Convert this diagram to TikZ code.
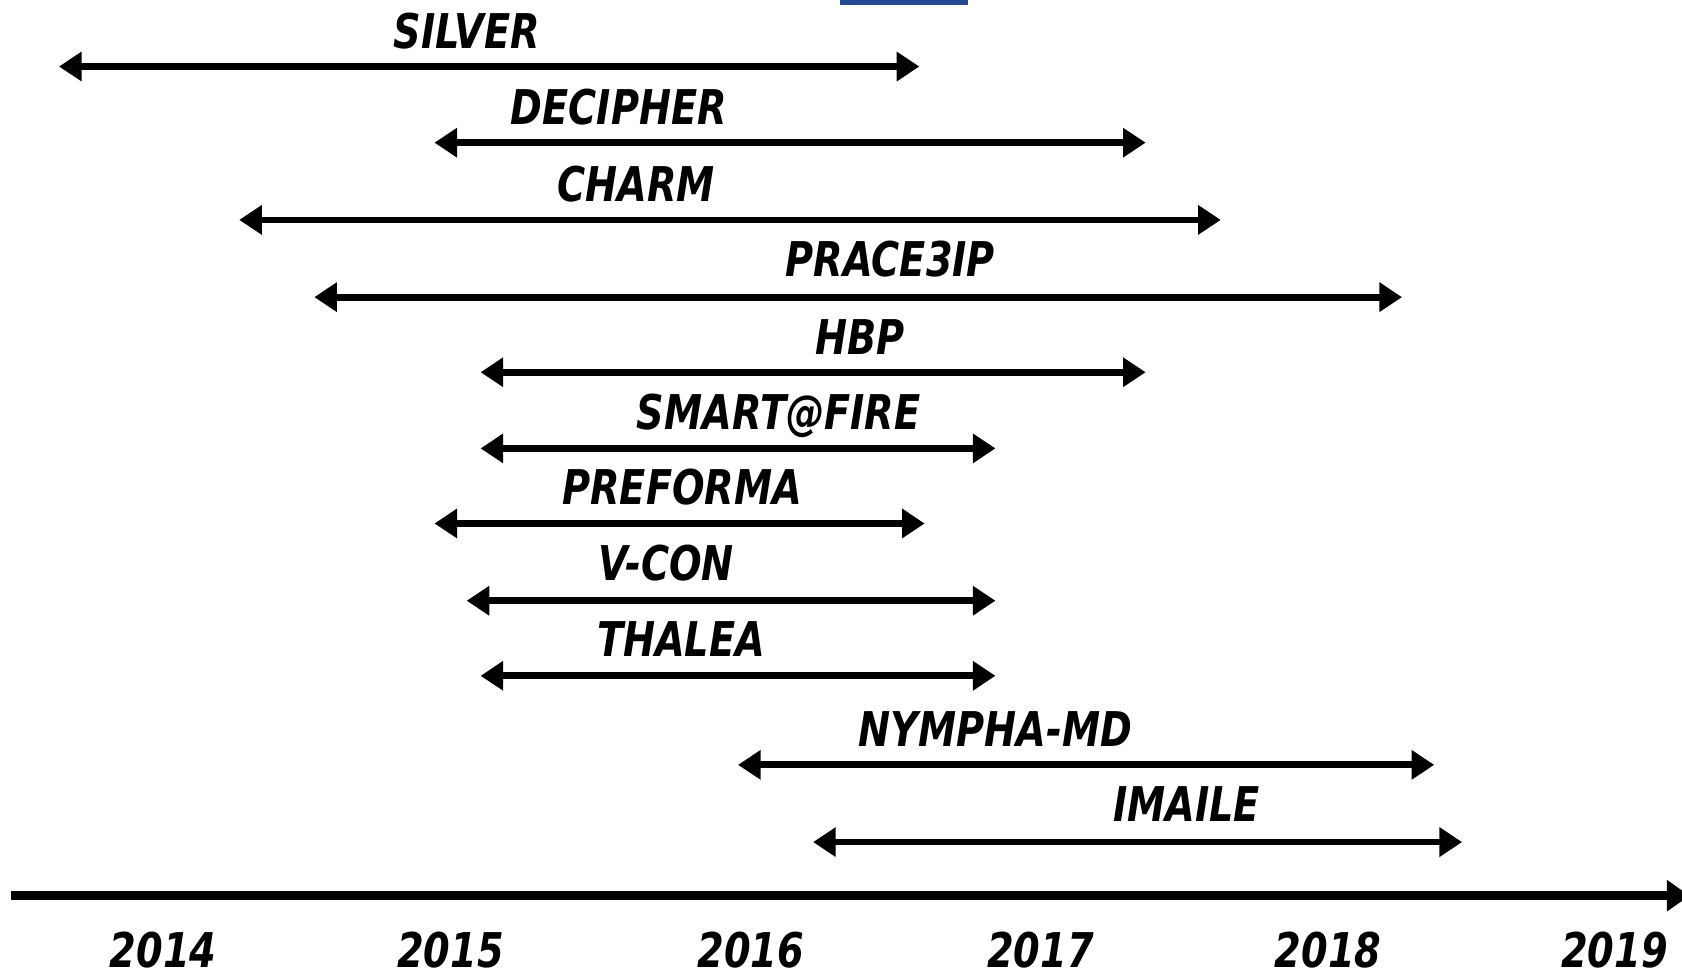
\documentclass[tikz,border=0pt]{standalone}
\usepackage{fontspec}
\setmainfont{DejaVu Sans}
\usepackage{graphicx}
\usetikzlibrary{arrows.meta}
\definecolor{headblue}{RGB}{38,74,145}
\newcommand{\squeeze}[1]{\scalebox{0.8}[1]{#1}}
\tikzset{
  span/.style={line width=1.8pt,{Triangle[length=6pt,width=7.5pt]}-{Triangle[length=6pt,width=7.5pt]}},
  timeline/.style={line width=2.5pt,-{Triangle[length=6pt,width=8pt]}},
  proj/.style={anchor=base,inner sep=0pt,font=\fontsize{12.7}{14}\selectfont\bfseries\itshape},
}
\begin{document}
\begin{tikzpicture}[x=0.1mm,y=-0.1mm]
  \useasboundingbox (0,0) rectangle (1568,905);
  \fill[headblue] (783,-5) rectangle (902,5);

  % projects
  \coordinate (silverL) at (55,62);   \coordinate (silverR) at (857,62);
  \coordinate (decipherL) at (405,133); \coordinate (decipherR) at (1068,133);
  \coordinate (charmL) at (223,205);  \coordinate (charmR) at (1138,205);
  \coordinate (praceL) at (293,277);  \coordinate (praceR) at (1307,277);
  \coordinate (hbpL) at (448,347);    \coordinate (hbpR) at (1068,347);
  \coordinate (smartL) at (448,418);  \coordinate (smartR) at (928,418);
  \coordinate (preformaL) at (405,488); \coordinate (preformaR) at (862,488);
  \coordinate (vconL) at (435,560);   \coordinate (vconR) at (928,560);
  \coordinate (thaleaL) at (448,630); \coordinate (thaleaR) at (928,630);
  \coordinate (nymphaL) at (688,713); \coordinate (nymphaR) at (1337,713);
  \coordinate (imaileL) at (758,785); \coordinate (imaileR) at (1363,785);

  \draw[span] (silverL) -- (silverR);
  \draw[span] (decipherL) -- (decipherR);
  \draw[span] (charmL) -- (charmR);
  \draw[span] (praceL) -- (praceR);
  \draw[span] (hbpL) -- (hbpR);
  \draw[span] (smartL) -- (smartR);
  \draw[span] (preformaL) -- (preformaR);
  \draw[span] (vconL) -- (vconR);
  \draw[span] (thaleaL) -- (thaleaR);
  \draw[span] (nymphaL) -- (nymphaR);
  \draw[span] (imaileL) -- (imaileR);

  \node[proj] (silver) at (435,45) {\squeeze{SILVER}};
  \node[proj] (decipher) at (577,116) {\squeeze{DECIPHER}};
  \node[proj] (charm) at (593,188) {\squeeze{CHARM}};
  \node[proj] (prace) at (830,258) {\squeeze{PRACE3IP}};
  \node[proj] (hbp) at (802,330) {\squeeze{HBP}};
  \node[proj] (smart) at (726,400) {\squeeze{SMART@FIRE}};
  \node[proj] (preforma) at (636,470) {\squeeze{PREFORMA}};
  \node[proj] (vcon) at (621,541) {\squeeze{V-CON}};
  \node[proj] (thalea) at (635,612) {\squeeze{THALEA}};
  \node[proj] (nympha) at (928,696) {\squeeze{NYMPHA-MD}};
  \node[proj] (imaile) at (1106,766) {\squeeze{IMAILE}};

  % time axis
  \coordinate (axisL) at (10,835);
  \coordinate (axisR) at (1575,835);
  \draw[timeline] (axisL) -- (axisR);
  \node[proj] (y2014) at (152,902) {\squeeze{2014}};
  \node[proj] (y2015) at (420,902) {\squeeze{2015}};
  \node[proj] (y2016) at (700,902) {\squeeze{2016}};
  \node[proj] (y2017) at (970,902) {\squeeze{2017}};
  \node[proj] (y2018) at (1238,902) {\squeeze{2018}};
  \node[proj] (y2019) at (1505,902) {\squeeze{2019}};
\end{tikzpicture}
\end{document}
